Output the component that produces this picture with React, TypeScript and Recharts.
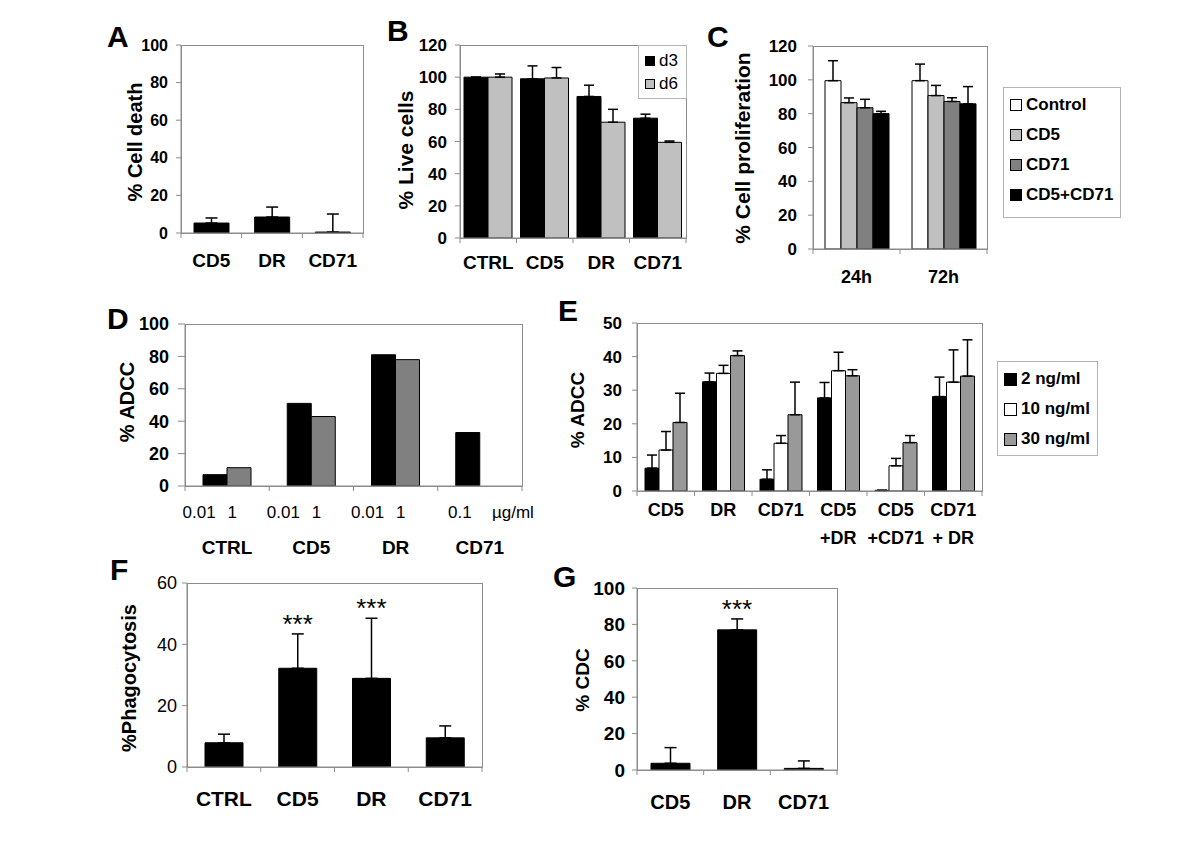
import React from "react";
import { BarChart, Bar, XAxis, YAxis, ErrorBar, ReferenceDot } from "recharts";

const FONT = '"Liberation Sans", Arial, Helvetica, sans-serif';
const AXIS = "#8c8c8c";

// A - cell death
const aCats = ["CD5", "DR", "CD71"];
const aDeath = [5.3, 8.5, 0.5];
const aDeathErr = [2.7, 5.3, 9.6];

// B - live cells
const bCats = ["CTRL", "CD5", "DR", "CD71"];
const bD3 = [100, 99, 88, 74.5];
const bD3Err = [0, 8, 7, 2.5];
const bD6 = [100, 99.5, 72, 59.5];
const bD6Err = [2, 6.5, 8, 0.8];

// C - proliferation
const cCats = ["24h", "72h"];
const cControl = [99.5, 99.5];
const cControlErr = [11.8, 9.8];
const cCD5 = [86.5, 90.7];
const cCD5Err = [2.8, 6];
const cCD71 = [83.5, 87.2];
const cCD71Err = [5, 2.2];
const cBoth = [80, 85.8];
const cBothErr = [1.4, 10.2];

// D - ADCC by dose
const dCats = ["CTRL", "CD5", "DR", "CD71"];
const dLow = [7, 51, 81, 33];
const dHigh: (number | null)[] = [11.3, 42.9, 78, null];
const dDoses = [["0.01", "1"], ["0.01", "1"], ["0.01", "1"], ["0.1", "µg/ml"]];

// E - ADCC by concentration
const eCats = ["CD5", "DR", "CD71", "CD5\n+DR", "CD5\n+CD71", "CD71\n+ DR"];
const e2 = [6.8, 32.5, 3.5, 27.7, 0.2, 28.1];
const e2Err = [3.9, 2.6, 2.8, 4.6, 0, 5.8];
const e10 = [12.2, 35, 14.2, 35.8, 7.5, 32.4];
const e10Err = [5.5, 2.4, 2.3, 5.5, 2.2, 9.6];
const e30 = [20.4, 40.3, 22.7, 34.3, 14.4, 34.2];
const e30Err = [8.7, 1.4, 9.7, 1.8, 2.1, 10.8];

// F - phagocytosis
const fCats = ["CTRL", "CD5", "DR", "CD71"];
const fPhago = [7.9, 32.2, 28.9, 9.5];
const fErr = [2.8, 11.2, 19.6, 3.9];
const fSig = ["", "***", "***", ""];

// G - CDC
const gCats = ["CD5", "DR", "CD71"];
const gCdc = [3.7, 77, 0.9];
const gErr = [8.6, 6, 4.1];
const gSig = ["", "***", ""];

const ticks100 = [0, 20, 40, 60, 80, 100];
const ticks120 = [0, 20, 40, 60, 80, 100, 120];
const ticks50 = [0, 10, 20, 30, 40, 50];
const ticks60 = [0, 20, 40, 60];

const up = (e: number) => [0, e];

const aData = aCats.map((cat, i) => ({ cat, v: aDeath[i], e: up(aDeathErr[i]) }));
const bData = bCats.map((cat, i) => ({ cat, d3: bD3[i], d3e: up(bD3Err[i]), d6: bD6[i], d6e: up(bD6Err[i]) }));
const cData = cCats.map((cat, i) => ({
  cat,
  ctl: cControl[i], ctle: up(cControlErr[i]),
  cd5: cCD5[i], cd5e: up(cCD5Err[i]),
  cd71: cCD71[i], cd71e: up(cCD71Err[i]),
  both: cBoth[i], bothe: up(cBothErr[i]),
}));
const dData = dCats.map((cat, i) => ({ cat, lo: dLow[i], hi: dHigh[i] }));
const eData = eCats.map((cat, i) => ({
  cat,
  n2: e2[i], n2e: up(e2Err[i]),
  n10: e10[i], n10e: up(e10Err[i]),
  n30: e30[i], n30e: up(e30Err[i]),
}));
const fData = fCats.map((cat, i) => ({ cat, v: fPhago[i], e: up(fErr[i]) }));
const gData = gCats.map((cat, i) => ({ cat, v: gCdc[i], e: up(gErr[i]) }));

type Rect = { x: number; y: number; w: number; h: number };
type Series = { key: string; name: string; fill: string; err?: string };

const PAD_L = 90;
const PAD_T = 30;
const PAD_R = 50;
const PAD_B = 80;

function CatTick(props: any) {
  const { x, y, payload, index, count, band, fs, dy1, dy2, sub, subDx, subFs, subDy } = props;
  const half = payload && payload.offset > 0 ? payload.offset : band / 2;
  const lines = String(payload.value).split("\n");
  return (
    <g>
      <line x1={x - half} x2={x - half} y1={y} y2={y + 5} stroke={AXIS} />
      {index === count - 1 && <line x1={x + half} x2={x + half} y1={y} y2={y + 5} stroke={AXIS} />}
      {sub &&
        sub[index].map((t: string, i: number) => (
          <text key={"s" + i} x={x + subDx[index][i]} y={y + subDy + 0.36 * subFs} textAnchor="middle" fontSize={subFs} fill="#000">
            {t}
          </text>
        ))}
      {lines.map((l, i) => (
        <text key={i} x={x} y={y + (i === 0 ? dy1 : dy2) + 0.36 * fs} textAnchor="middle" fontSize={fs} fontWeight="bold" fill="#000">
          {l}
        </text>
      ))}
    </g>
  );
}

type PanelProps = {
  rect: Rect;
  data: any[];
  series: Series[];
  ticks: number[];
  barSize: number;
  tickFont: number;
  tickBold?: boolean;
  tickGap: number;
  tickLen?: number;
  catFont: number;
  catDy: number;
  cat2Dy?: number;
  errWidth?: number;
  sig?: string[];
  sigFont?: number;
  sub?: string[][];
  subDx?: number[][];
  subFs?: number;
  subDy?: number;
};

function Panel(p: PanelProps) {
  const { rect, data, series, ticks, barSize } = p;
  const n = data.length;
  const top = ticks[ticks.length - 1];
  return (
    <>
      <div
        style={{
          position: "absolute",
          left: rect.x,
          top: rect.y,
          width: rect.w + 1,
          height: rect.h + 1,
          border: `1px solid ${AXIS}`,
          boxSizing: "border-box",
        }}
      />
      <div style={{ position: "absolute", left: rect.x - PAD_L, top: rect.y - PAD_T }}>
        <BarChart
          width={rect.w + PAD_L + PAD_R}
          height={rect.h + PAD_T + PAD_B}
          data={data}
          margin={{ top: PAD_T, right: PAD_R, left: 0, bottom: 0 }}
          barGap={0}
          barSize={barSize}
        >
          <XAxis
            dataKey="cat"
            height={PAD_B}
            tickSize={0}
            tickMargin={0}
            tickLine={false}
            axisLine={{ stroke: AXIS }}
            interval={0}
            tick={(tp: any) => (
              <CatTick
                {...tp}
                count={n}
                band={rect.w / n}
                fs={p.catFont}
                dy1={p.catDy}
                dy2={p.cat2Dy ?? 0}
                sub={p.sub}
                subDx={p.subDx}
                subFs={p.subFs}
                subDy={p.subDy}
              />
            )}
          />
          <YAxis
            width={PAD_L}
            domain={[0, top]}
            ticks={ticks}
            interval={0}
            allowDataOverflow
            tickSize={p.tickLen ?? 5}
            tickMargin={p.tickGap}
            axisLine={{ stroke: AXIS }}
            tickLine={{ stroke: AXIS }}
            tick={{ fill: "#000", fontSize: p.tickFont, fontWeight: p.tickBold === false ? "normal" : "bold" }}
          />
          {series.map((s) => (
            <Bar key={s.key} dataKey={s.key} name={s.name} fill={s.fill} stroke="#000" strokeWidth={1} isAnimationActive={false}>
              {s.err && <ErrorBar dataKey={s.err} direction="y" width={p.errWidth ?? 5} stroke="#000" strokeWidth={1.5} />}
            </Bar>
          ))}
          {p.sig &&
            data.map((row, i) =>
              p.sig && p.sig[i] ? (
                <ReferenceDot
                  key={"sig" + i}
                  x={row.cat}
                  y={row.v + row.e[1]}
                  r={0}
                  fill="none"
                  stroke="none"
                  label={{ value: p.sig[i], position: "top", offset: 1, fontSize: p.sigFont ?? 26, fill: "#000" }}
                />
              ) : null
            )}
        </BarChart>
      </div>
    </>
  );
}

function Letter({ t, x, cy }: { t: string; x: number; cy: number }) {
  return (
    <div style={{ position: "absolute", left: x, top: cy, transform: "translateY(-50%)", fontSize: 30, fontWeight: "bold", lineHeight: 1 }}>
      {t}
    </div>
  );
}

function YTitle({ t, cx, cy, fs, bold = true }: { t: string; cx: number; cy: number; fs: number; bold?: boolean }) {
  return (
    <div
      style={{
        position: "absolute",
        left: cx,
        top: cy,
        transform: "translate(-50%, -50%) rotate(-90deg)",
        fontSize: fs,
        fontWeight: bold ? "bold" : "normal",
        lineHeight: 1,
        whiteSpace: "nowrap",
      }}
    >
      {t}
    </div>
  );
}

function LegendBox({
  left, top, width, height, items, fs, bold, row, padTop, sw,
}: {
  left: number; top: number; width: number; height: number; items: Series[]; fs: number; bold: boolean; row: number; padTop: number; sw: number;
}) {
  return (
    <div
      style={{
        position: "absolute",
        left,
        top,
        width,
        height,
        border: "1px solid #b4b4b4",
        boxSizing: "border-box",
        paddingTop: padTop,
        paddingLeft: 6,
        background: "#fff",
      }}
    >
      {items.map((s) => (
        <div key={s.key} style={{ height: row, display: "flex", alignItems: "center", fontSize: fs, fontWeight: bold ? "bold" : "normal", whiteSpace: "nowrap" }}>
          <span
            style={{
              display: "inline-block",
              flexShrink: 0,
              width: sw,
              height: sw,
              background: s.fill,
              border: "1px solid #000",
              boxSizing: "border-box",
              marginRight: 4,
            }}
          />
          {s.name}
        </div>
      ))}
    </div>
  );
}

const bSeries: Series[] = [
  { key: "d3", name: "d3", fill: "#000000", err: "d3e" },
  { key: "d6", name: "d6", fill: "#c0c0c0", err: "d6e" },
];
const cSeries: Series[] = [
  { key: "ctl", name: "Control", fill: "#ffffff", err: "ctle" },
  { key: "cd5", name: "CD5", fill: "#c0c0c0", err: "cd5e" },
  { key: "cd71", name: "CD71", fill: "#808080", err: "cd71e" },
  { key: "both", name: "CD5+CD71", fill: "#000000", err: "bothe" },
];
const eSeries: Series[] = [
  { key: "n2", name: "2 ng/ml", fill: "#000000", err: "n2e" },
  { key: "n10", name: "10 ng/ml", fill: "#ffffff", err: "n10e" },
  { key: "n30", name: "30 ng/ml", fill: "#999999", err: "n30e" },
];

export default function App() {
  return (
    <div style={{ position: "absolute", left: 0, top: 0, width: 1200, height: 848, background: "#fff", fontFamily: FONT, color: "#000", overflow: "hidden" }}>
      {/* A */}
      <Panel
        rect={{ x: 181, y: 45, w: 182, h: 188 }}
        data={aData}
        series={[{ key: "v", name: "death", fill: "#000", err: "e" }]}
        ticks={ticks100}
        barSize={35}
        tickFont={16}
        tickGap={8}
        catFont={19}
        catDy={27}
        errWidth={6}
      />
      <Letter t="A" x={107} cy={37} />
      <YTitle t="% Cell death" cx={135} cy={142} fs={20} />

      {/* B */}
      <Panel
        rect={{ x: 460, y: 45, w: 226, h: 193 }}
        data={bData}
        series={bSeries}
        ticks={ticks120}
        barSize={24}
        tickFont={17}
        tickGap={8}
        catFont={19}
        catDy={24}
        errWidth={5}
      />
      <Letter t="B" x={387} cy={31} />
      <YTitle t="% Live cells" cx={405} cy={150} fs={21} />
      <LegendBox left={638} top={45} width={49} height={54} items={bSeries} fs={17} bold={false} row={23} padTop={3} sw={10} />

      {/* C */}
      <Panel
        rect={{ x: 813, y: 46, w: 174, h: 203 }}
        data={cData}
        series={cSeries}
        ticks={ticks120}
        barSize={16}
        tickFont={17}
        tickGap={11}
        catFont={18}
        catDy={28}
        errWidth={5}
      />
      <Letter t="C" x={707} cy={37} />
      <YTitle t="% Cell proliferation" cx={742} cy={148} fs={21} />
      <LegendBox left={1003} top={87} width={118} height={131} items={cSeries} fs={17} bold row={30} padTop={2} sw={12} />

      {/* D */}
      <Panel
        rect={{ x: 185, y: 324, w: 337, h: 162 }}
        data={dData}
        series={[
          { key: "lo", name: "low", fill: "#000000" },
          { key: "hi", name: "high", fill: "#808080" },
        ]}
        ticks={ticks100}
        barSize={24}
        tickFont={18}
        tickGap={9}
        tickLen={7}
        catFont={19}
        catDy={61}
        sub={dDoses}
        subDx={[[-28, 5], [-28, 5], [-28, 5], [-20, 33]]}
        subFs={17}
        subDy={26}
      />
      <Letter t="D" x={107} cy={319} />
      <YTitle t="% ADCC" cx={127} cy={402} fs={20} />

      {/* E */}
      <Panel
        rect={{ x: 637, y: 323, w: 345, h: 168 }}
        data={eData}
        series={eSeries}
        ticks={ticks50}
        barSize={14}
        tickFont={17}
        tickGap={10}
        catFont={18}
        catDy={19}
        cat2Dy={47}
        errWidth={5}
      />
      <Letter t="E" x={558} cy={311} />
      <YTitle t="% ADCC" cx={577} cy={410} fs={19} />
      <LegendBox left={997} top={361} width={101} height={95} items={eSeries} fs={17} bold row={30} padTop={2} sw={13} />

      {/* F */}
      <Panel
        rect={{ x: 187, y: 583, w: 295, h: 184 }}
        data={fData}
        series={[{ key: "v", name: "phago", fill: "#000", err: "e" }]}
        ticks={ticks60}
        barSize={38}
        tickFont={18}
        tickBold={false}
        tickGap={5}
        catFont={21}
        catDy={31}
        errWidth={6}
        sig={fSig}
        sigFont={26}
      />
      <Letter t="F" x={110} cy={570} />
      <YTitle t="%Phagocytosis" cx={129} cy={678} fs={20} />

      {/* G */}
      <Panel
        rect={{ x: 637, y: 588, w: 200, h: 182 }}
        data={gData}
        series={[{ key: "v", name: "cdc", fill: "#000", err: "e" }]}
        ticks={ticks100}
        barSize={39}
        tickFont={19}
        tickGap={7}
        catFont={20}
        catDy={32}
        errWidth={6}
        sig={gSig}
        sigFont={26}
      />
      <Letter t="G" x={553} cy={577} />
      <YTitle t="% CDC" cx={582} cy={680} fs={19} />
    </div>
  );
}
